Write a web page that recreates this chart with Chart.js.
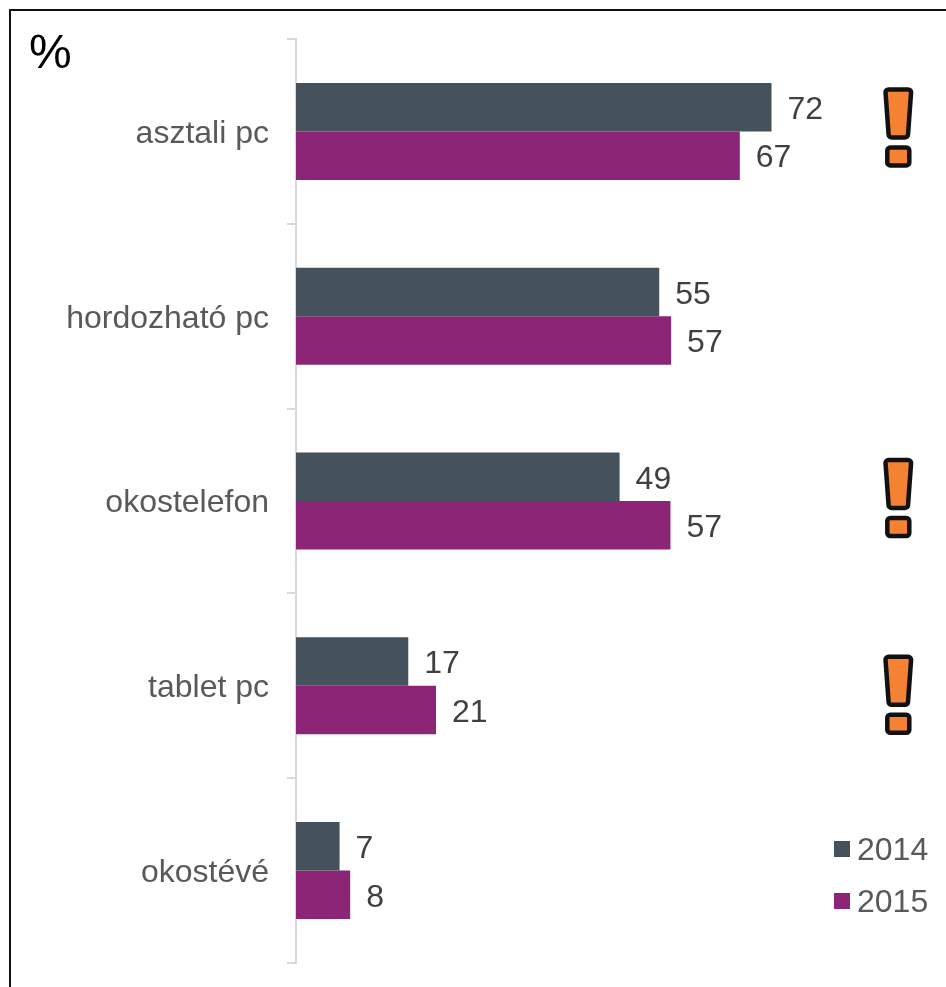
<!DOCTYPE html>
<html>
<head>
<meta charset="utf-8">
<style>
html,body{margin:0;padding:0;background:#fff;}
#wrap{position:relative;width:946px;height:987px;overflow:hidden;}
#frame{position:absolute;left:9px;top:9px;width:946px;height:990px;border:2px solid #111;box-sizing:border-box;pointer-events:none;}
canvas{position:absolute;left:0;top:0;}
</style>
<script src="https://cdn.jsdelivr.net/npm/chart.js@4"></script>
</head>
<body>
<div id="wrap">
<canvas id="c" width="946" height="987"></canvas>
<div id="frame"></div>
</div>
<script>
const categories = ['asztali pc','hordozható pc','okostelefon','tablet pc','okostévé'];
const seriesNames = ['2014','2015'];
const values2014 = [72, 55, 49, 17, 6.6];
const values2015 = [67.2, 56.8, 56.7, 21.2, 8.2];
const alertCategories = ['asztali pc','okostelefon','tablet pc'];
const unitLabel = '%';

const FONT = '"Liberation Sans", Arial, sans-serif';

function roundedPoly(ctx, pts, r){
  ctx.beginPath();
  const n = pts.length;
  const s = pts[n-1], f = pts[0];
  ctx.moveTo((s[0]+f[0])/2, (s[1]+f[1])/2);
  for(let i=0;i<n;i++){
    const a = pts[i], b = pts[(i+1)%n];
    ctx.arcTo(a[0],a[1],b[0],b[1],r);
  }
  ctx.closePath();
}

const overlay = {
  id:'overlay',
  afterDatasetsDraw(chart, args, opts){
    const {ctx, scales:{x,y}} = chart;
    ctx.save();
    // value labels
    ctx.font = '32px ' + FONT;
    ctx.fillStyle = '#404040';
    ctx.textBaseline = 'middle';
    ctx.textAlign = 'left';
    chart.data.datasets.forEach((ds,i)=>{
      chart.getDatasetMeta(i).data.forEach((bar,j)=>{
        ctx.fillText(String(Math.round(ds.data[j])), bar.x + opts.labelGap, bar.y + 3);
      });
    });
    // legend
    chart.data.datasets.forEach((ds,i)=>{
      const top = opts.legendTop + i*opts.legendStep;
      ctx.fillStyle = ds.backgroundColor;
      ctx.fillRect(opts.legendLeft, top, 16, 16);
      ctx.fillStyle = '#595959';
      ctx.fillText(ds.label, opts.legendLeft + 23, top + 10);
    });
    // unit
    ctx.font = '48px ' + FONT;
    ctx.fillStyle = '#000';
    ctx.textBaseline = 'alphabetic';
    ctx.fillText(unitLabel, 29, 68);
    // alert marks
    alertCategories.forEach((name,k)=>{
      const cx = x.getPixelForValue(opts.alertValue);
      const cy = y.getPixelForValue(categories.indexOf(name)) + opts.alertShift[k];
      ctx.lineWidth = 4.5;
      ctx.lineJoin = 'round';
      ctx.strokeStyle = '#111';
      ctx.fillStyle = '#f58232';
      roundedPoly(ctx, [[cx-13,cy-38],[cx+13,cy-38],[cx+9.5,cy+10],[cx-9.5,cy+10]], 3);
      ctx.fill(); ctx.stroke();
      roundedPoly(ctx, [[cx-11,cy+20],[cx+11,cy+20],[cx+11,cy+38],[cx-11,cy+38]], 3);
      ctx.fill(); ctx.stroke();
    });
    ctx.restore();
  }
};

new Chart(document.getElementById('c'), {
  type:'bar',
  data:{
    labels:categories,
    datasets:[
      {label:seriesNames[0], data:values2014, backgroundColor:'#45525c'},
      {label:seriesNames[1], data:values2015, backgroundColor:'#8c2576'}
    ]
  },
  plugins:[overlay],
  options:{
    indexAxis:'y',
    responsive:false,
    animation:false,
    layout:{padding:{left:0,top:39,right:16,bottom:24}},
    categoryPercentage:0.525,
    barPercentage:1,
    scales:{
      x:{display:false,min:0,max:96},
      y:{
        offset:true,
        afterFit(s){s.width=296;s.paddingTop=0;s.paddingBottom=0;},
        grid:{display:true,drawOnChartArea:false,drawTicks:true,tickLength:9,color:'#d9d9d9',lineWidth:2,offset:true},
        border:{display:true,color:'#d9d9d9',width:2},
        ticks:{color:'#595959',padding:18,labelOffset:2.5,font:{family:FONT,size:32}}
      }
    },
    plugins:{
      tooltip:{enabled:false},
      title:{display:false},
      legend:{display:false},
      overlay:{labelGap:16,alertValue:91.2,alertShift:[-4,-3,9],legendLeft:834,legendTop:841,legendStep:52}
    }
  }
});
</script>
</body>
</html>
